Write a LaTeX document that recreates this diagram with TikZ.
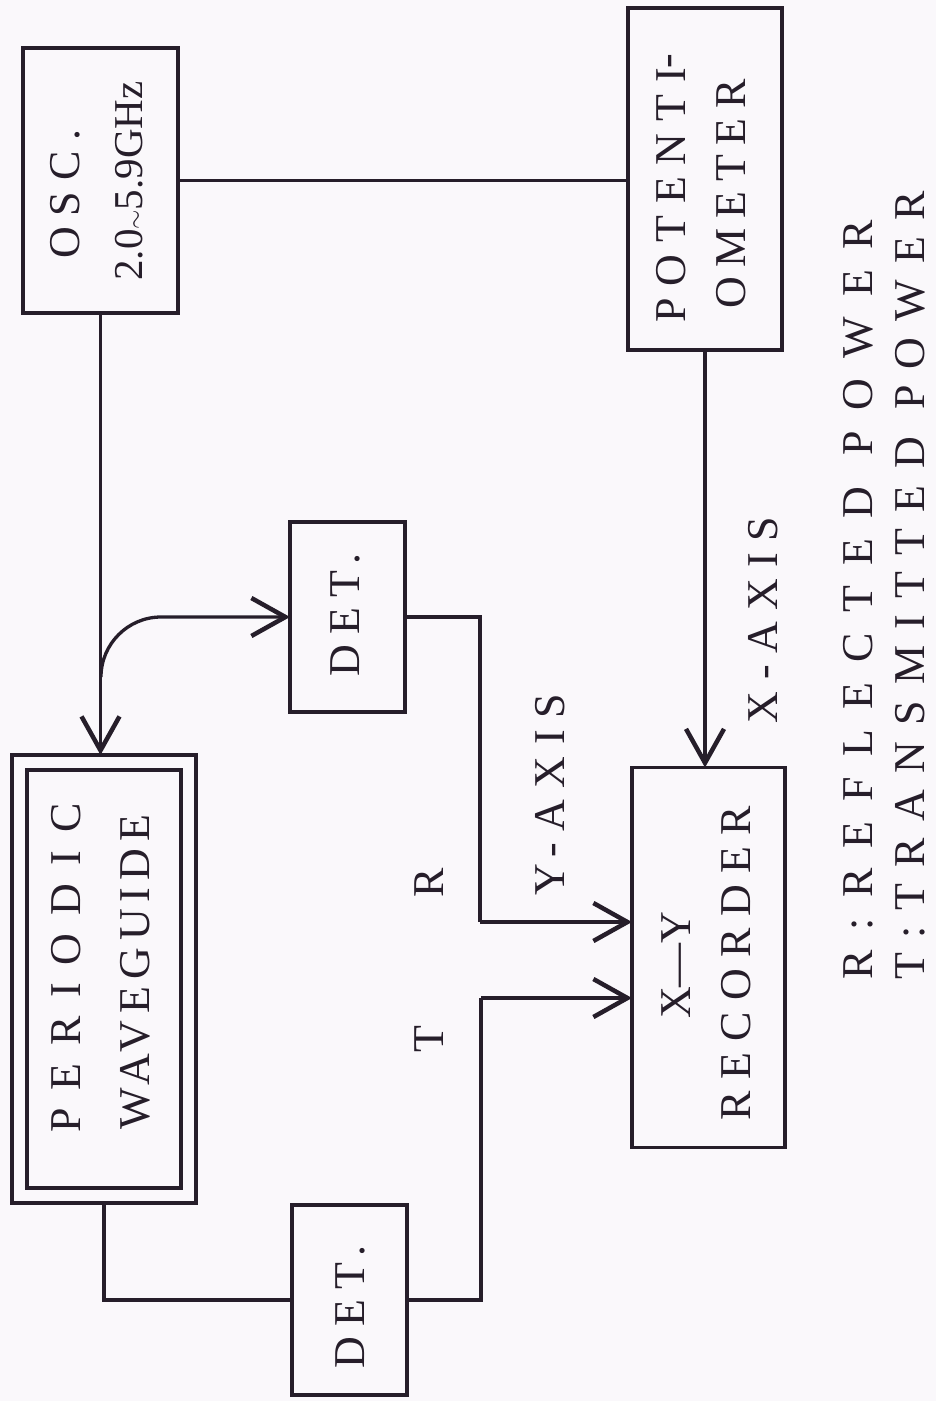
\documentclass[tikz,border=0pt]{standalone}
\usepackage{fontspec}
\setmainfont{Liberation Serif}
\usetikzlibrary{arrows.meta}
\definecolor{ink}{RGB}{38,30,42}
\definecolor{paper}{RGB}{250,248,251}
\newcommand\lsp[2]{{\fontsize{44}{54}\selectfont\addfontfeatures{LetterSpace=#1}#2}}
\begin{document}
\begin{tikzpicture}[x=1pt,y=-1pt,
  box/.style={draw=ink, line width=3.8pt, inner sep=0pt, outer sep=0pt},
  wire/.style={draw=ink, line width=3.3pt},
  arr/.style={wire, -{Straight Barb[length=34pt,width=38pt,line width=4.5pt]}},
  lbl/.style={rotate=90, inner sep=0pt, text=ink}]
\fill[paper] (0,0) rectangle (936,1401);
\useasboundingbox (0,0) rectangle (936,1401);

% boxes
\node[box, minimum width=155pt, minimum height=265pt] (osc) at (100.5,180.5) {};
\node[box, minimum width=154pt, minimum height=342pt] (pot) at (705,179) {};
\node[box, minimum width=115pt, minimum height=190pt] (det1) at (347.5,617) {};
\node[box, minimum width=115pt, minimum height=190pt] (det2) at (349.5,1300) {};
\node[box, minimum width=153pt, minimum height=380pt] (xy) at (708.5,957.5) {};
\node[box, minimum width=184pt, minimum height=448pt] (wg) at (104,979) {};
\node[box, line width=4.5pt, minimum width=154pt, minimum height=418pt] (wgi) at (wg.center) {};

% texts
\node[lbl] (osc1) at (65,194) {\lsp{25}{OSC.}};
\node[lbl, font=\fontsize{41}{41}\selectfont] (osc2) at (129,181) {2.0$\sim$5.9GHz};
\node[lbl] (pot1) at (671,188) {\lsp{27}{POTENTI\raisebox{5pt}{-}}};
\node[lbl] (pot2) at (731,194) {\lsp{22}{OMETER}};
\node[lbl] (wg1) at (66,968) {\lsp{41}{PERIODIC}};
\node[lbl] (wg2) at (135,972) {\lsp{16}{WAVEGUIDE}};
\node[lbl] (d1t) at (345,615) {\lsp{23}{DET.}};
\node[lbl] (d2t) at (350,1307) {\lsp{23}{DET.}};
\node[lbl] (xy1) at (676,965) {\lsp{0}{X—Y}};
\node[lbl] (xy2) at (736,963) {\lsp{26}{RECORDER}};
\node[lbl] (lR) at (429,883) {\lsp{0}{R}};
\node[lbl] (lT) at (429,1039) {\lsp{0}{T}};
\node[lbl] (ya) at (550,795) {\lsp{26}{Y-AXIS}};
\node[lbl] (xa) at (763,620) {\lsp{26}{X-AXIS}};
\node[lbl, anchor=west] (leg1) at (858,980) {\lsp{46}{R:REFLECTED POWER}};
\node[lbl, anchor=west] (leg2) at (910,980) {\lsp{37}{T:TRANSMITTED POWER}};

% connectors
\coordinate (br) at (101,677);
\coordinate (cR) at (480,922);
\coordinate (cT) at (481,998);
\draw[wire] (osc.east) -- (osc.east -| pot.west);
\draw[arr] (osc.south) -- (osc.south |- wg.north);
\draw[arr] (br) .. controls (101,644) and (128,617) .. (161,617) -- (det1.west);
\draw[wire] (det1.east) -- (det1.east -| cR) -- (cR);
\draw[arr] (cR) -- (cR -| xy.west);
\draw[wire] (wg.south) |- (det2.west);
\draw[wire] (det2.east) -- (det2.east -| cT) -- (cT);
\draw[arr] (cT) -- (cT -| xy.west);
\draw[arr] (pot.south) -- (pot.south |- xy.north);
\end{tikzpicture}
\end{document}
